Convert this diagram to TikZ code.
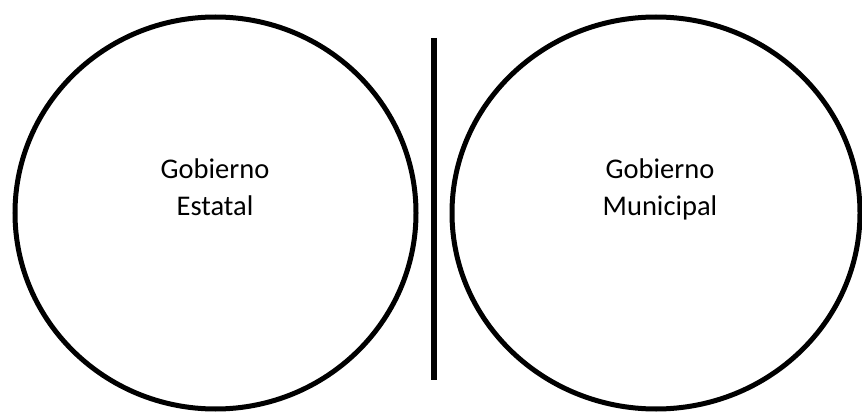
\documentclass[tikz,border=0pt]{standalone}
\usepackage{fontspec}
\setmainfont{Carlito}
\usetikzlibrary{shapes.geometric}
\tikzset{govsec/.style={x=1pt,y=1pt},
  orb/.style={draw,ellipse,line width=5pt,inner sep=0pt},
  orbtext/.style={align=center,anchor=north,inner sep=0pt,font=\fontsize{28.5}{36.5}\selectfont}}

\begin{document}
\begin{tikzpicture}[govsec]
    \useasboundingbox (0,0) rectangle (862,413);
    \node[orb,minimum width=401pt,minimum height=392pt] (estatal) at (215.5,200) {};
    \node[orb,minimum width=408pt,minimum height=392pt] (municipal) at (656,200) {};
    \node[orbtext] (estatalTxt) at (215,254) {Gobierno\\Estatal};
    \node[orbtext] (municipalTxt) at (660,254) {Gobierno\\Municipal};
    \coordinate (sepTop) at (434,375);
    \coordinate (sepBot) at (434,33);
    \draw[line width=5.5pt] (sepTop) -- (sepBot);
\end{tikzpicture}
\end{document}
